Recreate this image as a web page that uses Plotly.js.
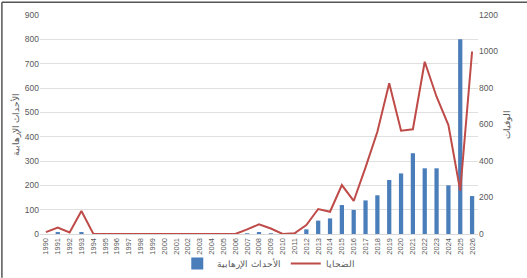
<!DOCTYPE html>
<html>
<head>
<meta charset="utf-8">
<script src="https://cdn.plot.ly/plotly-3.0.1.min.js"></script>
<style>html,body{margin:0;padding:0;background:#fff;}#chart{width:527px;height:278px;}</style>
</head>
<body>
<div id="chart"></div>
<script>
const years = ["1990","1991","1992","1993","1994","1995","1996","1997","1998","1999","2000","2001","2002","2003","2004","2005","2006","2007","2008","2009","2010","2011","2012","2013","2014","2015","2016","2017","2018","2019","2020","2021","2022","2023","2024","2025","2026"];
const incidents = [0,8,0,8,0,0,0,0,0,0,0,0,0,0,0,0,0,3,8,3,0,2,19,55,64,119,99,138,159,222,249,332,270,270,200,800,156];
const victims = [10,35,8,126,2,0,0,0,0,0,0,0,0,0,0,0,0,25,53,30,0,4,49,137,122,268,181,365,560,826,566,574,944,752,597,237,1000];
const incidentsName = "الأحداث الإرهابية";
const victimsName = "الضحايا";
const leftTitle = "الأحداث الإرهابية";
const rightTitle = "الوفيات";

const FONT = "Liberation Sans, Arial, sans-serif";
const tickFont = {family: FONT, size: 8.5, color: "#595959"};

const data = [
  {type: "bar", x: years, y: incidents, name: incidentsName, marker: {color: "#4A7EBB"}, width: 0.36, yaxis: "y"},
  {type: "scatter", mode: "lines", x: years, y: victims, name: victimsName, line: {color: "#BE4B48", width: 2}, yaxis: "y2"}
];

const layout = {
  width: 527, height: 278,
  margin: {l: 40, r: 49, t: 15, b: 44, autoexpand: false},
  paper_bgcolor: "#fff", plot_bgcolor: "#fff",
  showlegend: true,
  legend: {orientation: "h", xref: "container", yref: "container", x: 0.51, xanchor: "center", y: 0.0, yanchor: "bottom",
    font: {family: FONT, size: 9, color: "#595959"}, itemwidth: 30, tracegroupgap: 0, bgcolor: "rgba(0,0,0,0)"},
  xaxis: {type: "category", tickangle: -90, tickfont: {family: FONT, size: 7.5, color: "#595959"}, showgrid: false, showline: true, linecolor: "#d9d9d9", ticks: "", automargin: false},
  yaxis: {range: [0, 900], dtick: 100, tickfont: tickFont, gridcolor: "#e0e0e0", zeroline: false, showline: false, ticks: "",
    title: {text: leftTitle, font: {family: FONT, size: 8.5, color: "#595959"}, standoff: 3}, automargin: false},
  yaxis2: {range: [0, 1200], dtick: 200, overlaying: "y", side: "right", tickfont: tickFont, showgrid: false, zeroline: false, showline: false, ticks: "",
    title: {text: rightTitle, font: {family: FONT, size: 8.5, color: "#595959"}, standoff: 6}, automargin: false},
  shapes: [
    {type: "line", xref: "paper", yref: "paper", x0: -0.087, x1: 1.12, y0: 1.058, y1: 1.058, line: {color: "#555", width: 1.5}},
    {type: "line", xref: "paper", yref: "paper", x0: -0.087, x1: -0.087, y0: 1.058, y1: -0.2, line: {color: "#555", width: 1.5}}
  ]
};

Plotly.newPlot("chart", data, layout, {displayModeBar: false, staticPlot: true});
</script>
</body>
</html>
